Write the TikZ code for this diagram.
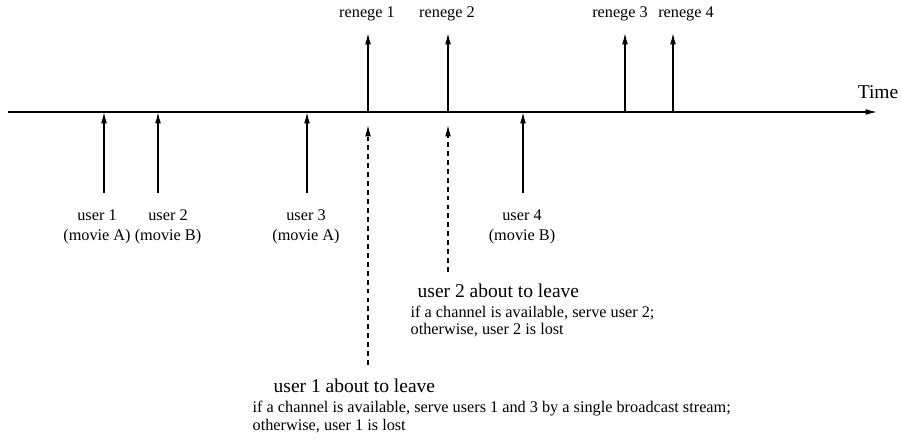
\documentclass[tikz,border=0pt]{standalone}
\usepackage{fontspec}
\setmainfont{Liberation Serif}
\usetikzlibrary{arrows.meta,positioning}

\begin{document}
\begin{tikzpicture}[x=0.615pt, y=-0.615pt, >={Latex[length=7pt,width=3.6pt]},
  line width=0.8pt, line cap=butt,
  lbl/.style={font=\fontsize{10}{12.5}\selectfont, align=center, inner sep=0pt},
  head/.style={font=\fontsize{12}{14}\selectfont, anchor=base west, inner sep=0pt},
  note/.style={font=\fontsize{10}{11}\selectfont, align=left, anchor=base west, inner sep=0pt},
  leave/.style={->, dash pattern=on 3pt off 2.5pt}]

\useasboundingbox (0,0) rectangle (902,441);

% time axis
\coordinate (t0) at (8,112);
\coordinate (t1) at (877,112);
\draw[->] (t0) -- (t1);
\node[font=\fontsize{12}{14}\selectfont, inner sep=0pt] (time) at (878,92) {Time};

% arrivals
\coordinate (a1) at (104,193); \coordinate (a1t) at (104,112);
\coordinate (a2) at (158,193); \coordinate (a2t) at (158,112);
\coordinate (a3) at (307,193); \coordinate (a3t) at (307,112);
\coordinate (a4) at (523,193); \coordinate (a4t) at (523,112);
\draw[->] (a1) -- (a1t);
\draw[->] (a2) -- (a2t);
\draw[->] (a3) -- (a3t);
\draw[->] (a4) -- (a4t);
\node[lbl] (u1) at (97,227) {user 1\\(movie A)};
\node[lbl] (u2) at (168,227) {user 2\\(movie B)};
\node[lbl] (u3) at (306,227) {user 3\\(movie A)};
\node[lbl] (u4) at (522,227) {user 4\\(movie B)};

% reneges
\coordinate (r1) at (368,112); \coordinate (r1t) at (368,33);
\coordinate (r2) at (448,112); \coordinate (r2t) at (448,33);
\coordinate (r3) at (625,112); \coordinate (r3t) at (625,33);
\coordinate (r4) at (673,112); \coordinate (r4t) at (673,33);
\draw[->] (r1) -- (r1t);
\draw[->] (r2) -- (r2t);
\draw[->] (r3) -- (r3t);
\draw[->] (r4) -- (r4t);
\node[lbl] (n1) at (367,14) {renege 1};
\node[lbl] (n2) at (447,14) {renege 2};
\node[lbl] (n3) at (620,14) {renege 3};
\node[lbl] (n4) at (686,14) {renege 4};

% about to leave
\node[head] (h2) at (417,298) {user 2 about to leave};
\node[note] (w2) at (410,335) {if a channel is available, serve user 2;\\otherwise, user 2 is lost};
\node[head] (h1) at (273,393) {user 1 about to leave};
\node[note] (w1) at (252,430) {if a channel is available, serve users 1 and 3 by a single broadcast stream;\\otherwise, user 1 is lost};
\coordinate (d1) at (368,365); \coordinate (d1t) at (368,125);
\coordinate (d2) at (448,272); \coordinate (d2t) at (448,125);
\draw[leave] (d1) -- (d1t);
\draw[leave] (d2) -- (d2t);

\end{tikzpicture}
\end{document}
